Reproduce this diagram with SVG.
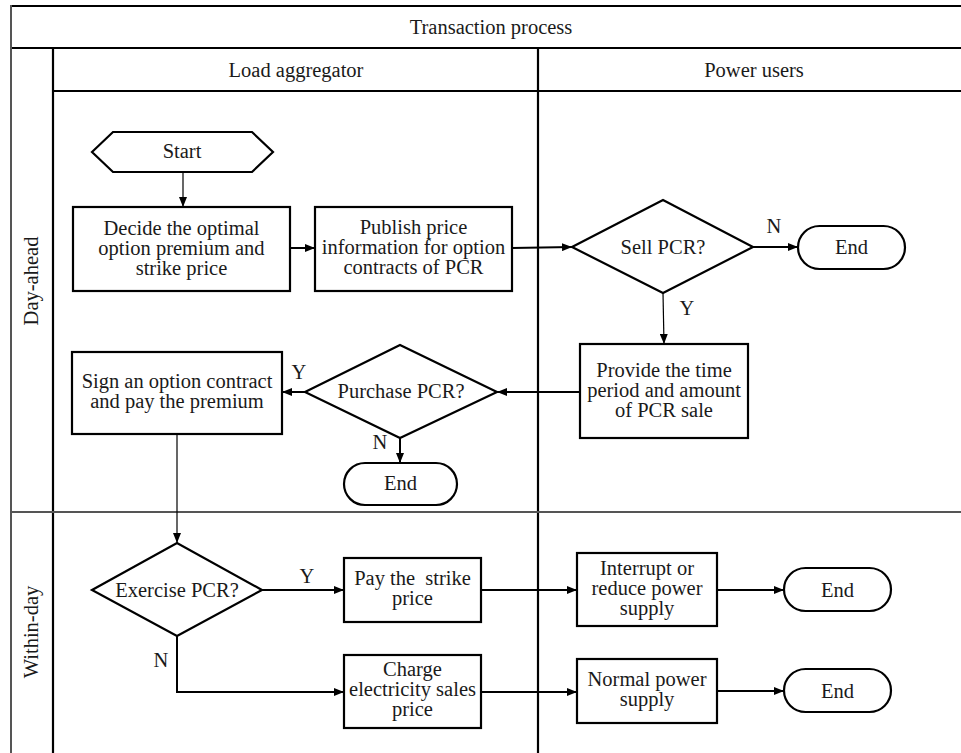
<svg xmlns="http://www.w3.org/2000/svg" width="961" height="753" viewBox="0 0 961 753">
<defs>
<marker id="ah" viewBox="0 0 10 8" refX="10" refY="4" markerWidth="10" markerHeight="8" markerUnits="userSpaceOnUse" orient="auto">
<path d="M0,0 L10,4 L0,8 z" fill="#000"/>
</marker>
<style>
text{font-family:"Liberation Serif","Times New Roman",serif;font-size:20.5px;fill:#1a1a1a;text-anchor:middle;white-space:pre}
.box{fill:#fff;stroke:#000;stroke-width:2.2}
.frame{stroke:#000;stroke-width:2.2;fill:none}
.grey{stroke:#555;stroke-width:2;fill:none}
.c{stroke:#000;stroke-width:2;fill:none;marker-end:url(#ah)}
.t{stroke:#000;stroke-width:1.2;fill:none;marker-end:url(#ah)}
.p{stroke:#000;stroke-width:2;fill:none}
</style>
</defs>
<rect width="961" height="753" fill="#fff"/>
<g id="table">
<line class="frame" x1="11" y1="6" x2="961" y2="6"/>
<line class="frame" x1="11" y1="48" x2="961" y2="48"/>
<line class="frame" x1="53" y1="91" x2="961" y2="91"/>
<line class="grey" x1="11" y1="5" x2="11" y2="753"/>
<line class="frame" x1="53" y1="48" x2="53" y2="753"/>
<line class="frame" x1="538" y1="48" x2="538" y2="753"/>
<line class="grey" x1="11" y1="512" x2="961" y2="512"/>
<text x="491" y="34">Transaction process</text>
<text x="296" y="77">Load aggregator</text>
<text x="754" y="77">Power users</text>
<text transform="translate(38,281) rotate(-90)" x="0" y="0">Day-ahead</text>
<text transform="translate(38,632) rotate(-90)" x="0" y="0">Within-day</text>
</g>
<g id="connectors">
<line class="t" x1="183" y1="172" x2="183" y2="207"/>
<line class="c" x1="290" y1="248" x2="315" y2="248"/>
<line class="c" x1="512" y1="248" x2="572" y2="247"/>
<line class="c" x1="753" y1="247" x2="798" y2="247"/>
<line class="t" x1="663" y1="293" x2="664" y2="344"/>
<line class="c" x1="580" y1="392" x2="497" y2="392"/>
<line class="c" x1="305" y1="392" x2="282" y2="392"/>
<line class="c" x1="400" y1="438" x2="400" y2="463"/>
<line class="t" x1="177" y1="434" x2="177" y2="543"/>
<line class="c" x1="262" y1="590" x2="344" y2="590"/>
<polyline class="c" points="177,636 177,692 344,692"/>
<line class="c" x1="481" y1="590" x2="577" y2="590"/>
<line class="c" x1="481" y1="692" x2="577" y2="692"/>
<line class="c" x1="717" y1="590" x2="784" y2="590"/>
<line class="c" x1="717" y1="691" x2="784" y2="691"/>
<text x="774" y="233">N</text>
<text x="687" y="315">Y</text>
<text x="299" y="379">Y</text>
<text x="380" y="449">N</text>
<text x="307" y="583">Y</text>
<text x="161" y="667">N</text>
</g>
<g id="start">
<polygon class="box" points="92,152 113,132 252,132 273,152 252,172 113,172"/>
<text x="182" y="158">Start</text>
</g>
<g id="decide">
<rect class="box" x="73" y="207" width="217" height="84"/>
<text x="181.5" y="235">Decide the optimal</text>
<text x="181.5" y="255">option premium and</text>
<text x="181.5" y="275">strike price</text>
</g>
<g id="publish">
<rect class="box" x="315" y="207" width="197" height="84"/>
<text x="413.5" y="234">Publish price</text>
<text x="413.5" y="254">information for option</text>
<text x="413.5" y="274">contracts of PCR</text>
</g>
<g id="sell">
<polygon class="box" points="572,247 663,200 753,247 663,293"/>
<text x="663" y="254">Sell PCR?</text>
</g>
<g id="end1">
<rect class="box" x="798" y="226" width="107" height="43" rx="21.5"/>
<text x="851.5" y="254">End</text>
</g>
<g id="provide">
<rect class="box" x="580" y="344" width="168" height="94"/>
<text x="664" y="377">Provide the time</text>
<text x="664" y="397">period and amount</text>
<text x="664" y="417">of PCR sale</text>
</g>
<g id="purchase">
<polygon class="box" points="305,392 400,345 497,392 400,438"/>
<text x="401" y="398">Purchase PCR?</text>
</g>
<g id="sign">
<rect class="box" x="72" y="352" width="210" height="82"/>
<text x="177" y="388">Sign an option contract</text>
<text x="177" y="408">and pay the premium</text>
</g>
<g id="end2">
<rect class="box" x="344" y="463" width="113" height="42" rx="21"/>
<text x="400.5" y="490">End</text>
</g>
<g id="exercise">
<polygon class="box" points="92,590 177,543 262,590 177,636"/>
<text x="177" y="597">Exercise PCR?</text>
</g>
<g id="pay">
<rect class="box" x="344" y="558" width="137" height="64"/>
<text x="412.5" y="585">Pay the  strike</text>
<text x="412.5" y="605">price</text>
</g>
<g id="charge">
<rect class="box" x="344" y="655" width="137" height="73"/>
<text x="412.5" y="676">Charge</text>
<text x="412.5" y="696">electricity sales</text>
<text x="412.5" y="716">price</text>
</g>
<g id="interrupt">
<rect class="box" x="577" y="553" width="140" height="73"/>
<text x="647" y="575">Interrupt or</text>
<text x="647" y="595">reduce power</text>
<text x="647" y="615">supply</text>
</g>
<g id="end3">
<rect class="box" x="784" y="568" width="107" height="43" rx="21.5"/>
<text x="837.5" y="597">End</text>
</g>
<g id="normal">
<rect class="box" x="577" y="659" width="140" height="64"/>
<text x="647" y="686">Normal power</text>
<text x="647" y="706">supply</text>
</g>
<g id="end4">
<rect class="box" x="784" y="669" width="107" height="43" rx="21.5"/>
<text x="837.5" y="698">End</text>
</g>
</svg>
